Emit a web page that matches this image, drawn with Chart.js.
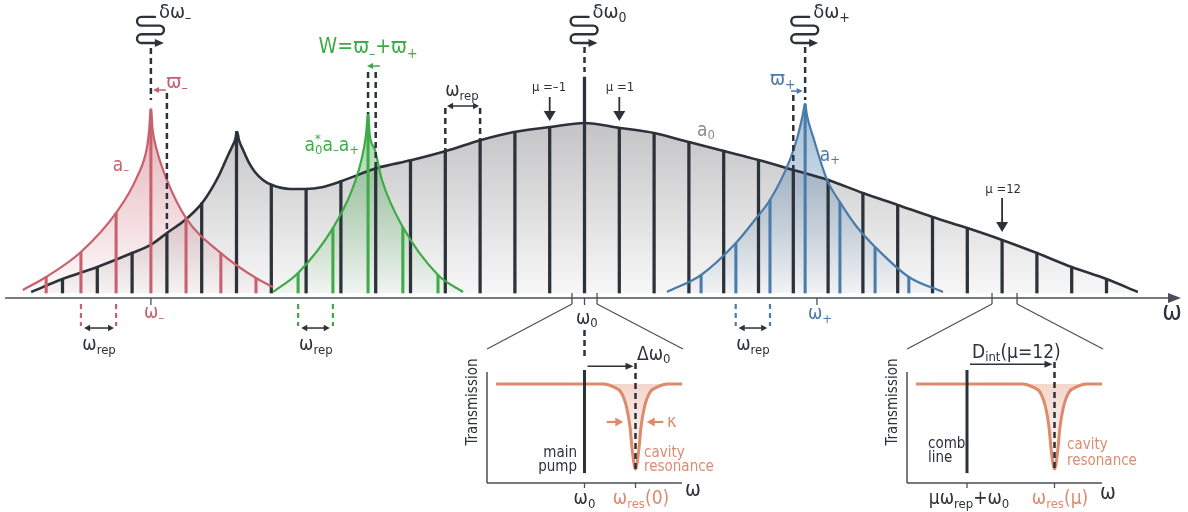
<!DOCTYPE html>
<html>
<head>
<meta charset="utf-8">
<title>Frequency comb</title>
<script src="https://cdn.jsdelivr.net/npm/chart.js@4.4.1/dist/chart.umd.min.js"></script>
<style>
  html, body { margin: 0; padding: 0; background: #fff; }
  #wrap { position: relative; width: 1188px; height: 512px; overflow: hidden; }
  canvas { position: absolute; }
</style>
</head>
<body>
<div id="wrap">
  <canvas id="main" width="1188" height="512" style="left:0;top:0"></canvas>
  <canvas id="inset1" width="280" height="182" style="left:440px;top:330px"></canvas>
  <canvas id="inset2" width="300" height="182" style="left:860px;top:330px"></canvas>
</div>
<script>
// x = comb index mu (omega_rep units from omega_0), y = amplitude (main envelope peak = 1)

// main comb lines
const greyMu = [-15, -14, -13, -12, -11, -10, -9, -8, -7, -6, -5, -4, -3, -2, -1, 0,
  1, 2, 3, 4, 5, 6, 7, 8, 9, 10, 11, 12, 13, 14, 15];
const greyAmp = [0.08, 0.15, 0.24, 0.35, 0.53, 0.95, 0.64, 0.61, 0.66, 0.74, 0.78, 0.84, 0.90, 0.95, 0.98, 1.27,
  0.97, 0.94, 0.89, 0.84, 0.78, 0.72, 0.67, 0.59, 0.52, 0.45, 0.38, 0.31, 0.24, 0.15, 0.08];

// main envelope a0
const envMu = [-15.9, -15, -14, -13, -12.43, -12, -11.48, -10.99, -10.7, -10.47,
  -10.24, -10.13, -10.04, -9.98, -9.93, -9.81, -9.64, -9.47, -9.24, -8.98,
  -8.46, -8.03, -7.51, -6.97, -5.96, -4.96, -3.98, -2.97, -2.03, -0.99,
  0, 1.02, 2, 3, 4, 5, 6, 7, 8, 9, 10, 11, 12, 13, 14, 15, 15.9];
const envAmp = [0.006, 0.082, 0.153, 0.235, 0.288, 0.353, 0.429, 0.529, 0.618, 0.706,
  0.812, 0.859, 0.9, 0.947, 0.9, 0.841, 0.765, 0.712, 0.665, 0.635,
  0.612, 0.612, 0.624, 0.659, 0.735, 0.782, 0.835, 0.9, 0.947, 0.976,
  1.0, 0.971, 0.941, 0.888, 0.835, 0.782, 0.724, 0.665, 0.588, 0.518, 0.447, 0.382, 0.312, 0.235, 0.153, 0.082, 0.006];

// a- (red)
const redMu = [-16.14, -15.47, -14.47, -13.46, -12.86, -12.57, -12.51, -12.46, -12.41, -12.29, -12.0, -11.45, -10.45, -9.44, -8.95];
const redAmp = [0.018, 0.094, 0.241, 0.471, 0.682, 0.859, 0.959, 1.082, 0.959, 0.841, 0.665, 0.441, 0.235, 0.088, 0.035];
const redCombMu = [-15.47, -14.47, -13.46, -12.46, -11.45, -10.45, -9.44];
const redCombAmp = [0.094, 0.241, 0.471, 1.082, 0.441, 0.235, 0.088];

// a0* a- a+ (green)
const greenMu = [-8.95, -8.23, -7.23, -6.68, -6.39, -6.28, -6.22, -6.17, -6.02, -5.82, -5.22, -4.21, -3.49];
const greenAmp = [0.006, 0.118, 0.382, 0.606, 0.8, 0.929, 1.053, 0.929, 0.841, 0.665, 0.388, 0.106, 0.006];
const greenCombMu = [-8.23, -7.23, -6.22, -5.22, -4.21];
const greenCombAmp = [0.118, 0.382, 1.053, 0.388, 0.106];

// a+ (blue)
const blueMu = [2.37, 3.35, 4.35, 4.96, 5.33, 5.9, 6.12, 6.27, 6.34, 6.39, 6.57, 6.97, 7.34, 7.83, 8.35, 9.32, 10.3];
const blueAmp = [0.006, 0.106, 0.294, 0.447, 0.547, 0.782, 0.918, 1.047, 1.112, 1.047, 0.918, 0.665, 0.535, 0.388, 0.271, 0.094, 0.006];
const blueCombMu = [3.35, 4.35, 5.33, 6.34, 7.34, 8.35, 9.32];
const blueCombAmp = [0.106, 0.294, 0.547, 1.112, 0.535, 0.271, 0.094];

// resonance dip in the insets (offset from resonance, transmission)
const dipOffset = [-3.2, -2.2, -1.4, -0.9, -0.55, -0.33, 0, 0.33, 0.55, 0.9, 1.4, 2.2, 3.2];
const dipT = [1, 0.97, 0.909, 0.768, 0.566, 0.333, 0.141, 0.333, 0.566, 0.768, 0.909, 0.97, 1];

const DARK = '#2c313a', AXIS = '#4a4f57', RED = '#c8606d', GREEN = '#3dab47',
  BLUE = '#4a7cab', ORANGE = '#dd8b6d', GREYTXT = '#8c8c8c';
const FONT = "'Liberation Sans Narrow','Arial Narrow','DejaVu Sans Condensed',sans-serif";

const pts = (xs, ys) => xs.map((v, i) => ({ x: v, y: ys[i] }));

// ---------- drawing helpers ----------
function seg(ctx, x1, y1, x2, y2, color, lw, dashArr) {
  ctx.save();
  ctx.strokeStyle = color;
  ctx.lineWidth = lw;
  ctx.setLineDash(dashArr || []);
  ctx.beginPath();
  ctx.moveTo(x1, y1);
  ctx.lineTo(x2, y2);
  ctx.stroke();
  ctx.restore();
}

function head(ctx, x, y, ang, color, len, hw) {
  ctx.save();
  ctx.fillStyle = color;
  ctx.beginPath();
  ctx.moveTo(x, y);
  ctx.lineTo(x - Math.cos(ang) * len - Math.sin(ang) * hw, y - Math.sin(ang) * len + Math.cos(ang) * hw);
  ctx.lineTo(x - Math.cos(ang) * len + Math.sin(ang) * hw, y - Math.sin(ang) * len - Math.cos(ang) * hw);
  ctx.closePath();
  ctx.fill();
  ctx.restore();
}

function arrow(ctx, x1, y1, x2, y2, color, lw, len, hw) {
  const ang = Math.atan2(y2 - y1, x2 - x1);
  seg(ctx, x1, y1, x2 - Math.cos(ang) * len * 0.7, y2 - Math.sin(ang) * len * 0.7, color, lw);
  head(ctx, x2, y2, ang, color, len, hw);
}

function arrow2(ctx, x1, x2, y, color, lw, len, hw) {
  seg(ctx, x1 + len * 0.7, y, x2 - len * 0.7, y, color, lw);
  head(ctx, x1, y, Math.PI, color, len, hw);
  head(ctx, x2, y, 0, color, len, hw);
}

// parts: [text, 'sub'|'sup'|'', optional stacked superscript]
function rich(ctx, x, y, parts, size, color, align) {
  const small = Math.round(size * 0.68);
  ctx.save();
  ctx.fillStyle = color;
  ctx.textBaseline = 'alphabetic';
  ctx.textAlign = 'left';
  const widths = parts.map(p => {
    ctx.font = (p[1] ? small : size) + 'px ' + FONT;
    let w = ctx.measureText(p[0]).width;
    if (p[2]) w = Math.max(w, ctx.measureText(p[2]).width);
    return w;
  });
  const total = widths.reduce((a, b) => a + b, 0);
  let cx = align === 'left' ? x : align === 'right' ? x - total : x - total / 2;
  const base = y + size * 0.3;
  parts.forEach((p, i) => {
    ctx.font = (p[1] ? small : size) + 'px ' + FONT;
    let by = base;
    if (p[1] === 'sub') by = base + size * 0.2;
    if (p[1] === 'sup') by = base - size * 0.45;
    ctx.fillText(p[0], cx, by);
    if (p[2]) ctx.fillText(p[2], cx, base - size * 0.42);
    cx += widths[i];
  });
  ctx.restore();
}

function wiggle(ctx, cx, top) {
  const r = 4.35;
  const rows = [top, top + 2 * r, top + 4 * r, top + 6 * r];
  ctx.save();
  ctx.strokeStyle = DARK;
  ctx.lineWidth = 2.4;
  ctx.lineCap = 'round';
  ctx.beginPath();
  ctx.moveTo(cx + 4, rows[0]);
  ctx.lineTo(cx - 9.5, rows[0]);
  ctx.arc(cx - 9.5, rows[0] + r, r, -Math.PI / 2, Math.PI / 2, true);
  ctx.lineTo(cx + 8.7, rows[1]);
  ctx.arc(cx + 8.7, rows[1] + r, r, -Math.PI / 2, Math.PI / 2, false);
  ctx.lineTo(cx - 9.5, rows[2]);
  ctx.arc(cx - 9.5, rows[2] + r, r, -Math.PI / 2, Math.PI / 2, true);
  ctx.lineTo(cx + 6, rows[3]);
  ctx.stroke();
  ctx.restore();
  head(ctx, cx + 13, rows[3], 0, DARK, 9, 4);
}

function vGrad(chart, topVal, botVal, c1, c2) {
  const { ctx, chartArea, scales } = chart;
  if (!chartArea) return c2;
  const g = ctx.createLinearGradient(0, scales.y.getPixelForValue(topVal), 0, scales.y.getPixelForValue(botVal));
  g.addColorStop(0, c1);
  g.addColorStop(1, c2);
  return g;
}

// ---------- main chart decorations ----------
const AXIS_A = -0.029;
const mainDecor = {
  id: 'mainDecor',
  afterDatasetsDraw(chart) {
    const { ctx } = chart;
    const X = v => chart.scales.x.getPixelForValue(v);
    const Y = v => chart.scales.y.getPixelForValue(v);
    const yAx = Y(AXIS_A);

    // frequency axis
    seg(ctx, X(-16.65), yAx, X(16.9), yAx, AXIS, 1.5);
    head(ctx, X(17.14), yAx, 0, AXIS, 13, 5);
    [-12.46, 0, 6.68].forEach(m => seg(ctx, X(m), yAx, X(m), Y(-0.071), AXIS, 1.3));

    // zoom windows towards the insets
    [[-0.36, 0.36, -2.8, 2.83], [11.71, 12.43, 9.27, 14.9]].forEach(([lo, hi, l, r]) => {
      seg(ctx, X(lo), Y(0), X(lo), Y(-0.065), AXIS, 1.3);
      seg(ctx, X(hi), Y(0), X(hi), Y(-0.065), AXIS, 1.3);
      seg(ctx, X(lo), Y(-0.065), X(l), Y(-0.329), AXIS, 1.2);
      seg(ctx, X(hi), Y(-0.065), X(r), Y(-0.329), AXIS, 1.2);
    });

    // dashed guide lines
    const D = [6, 4];
    [[-12.46, 1.441, 1.135], [-12, 1.176, 0.353], [-6.22, 1.3, 1.053], [-6, 1.3, 0.735],
     [0, 1.447, 1.3], [6.34, 1.447, 1.135], [6, 1.165, 0.724], [-4, 1.088, 0.835], [-3, 1.088, 0.9],
     [0, -0.218, -0.394]].forEach(([m, a1, a2]) => seg(ctx, X(m), Y(a1), X(m), Y(a2), DARK, 2.5, D));
    [[-14.47, RED], [-13.46, RED], [-8.23, GREEN], [-7.23, GREEN], [4.345, BLUE], [5.33, BLUE]]
      .forEach(([m, c]) => seg(ctx, X(m), Y(-0.065), X(m), Y(-0.194), c, 2.2, [5, 4]));

    // small arrows
    arrow(ctx, X(-12.03), Y(1.194), X(-12.40), Y(1.194), RED, 1.5, 6, 3);
    arrow(ctx, X(-5.88), Y(1.335), X(-6.25), Y(1.335), GREEN, 1.5, 6, 3);
    arrow(ctx, X(5.93), Y(1.188), X(6.27), Y(1.188), BLUE, 1.5, 6, 3);
    arrow2(ctx, X(-3.95), X(-3.03), Y(1.1), DARK, 1.5, 6, 3.2);
    [[-14.38, -13.52], [-8.14, -7.32], [4.43, 5.25]]
      .forEach(([a, b]) => arrow2(ctx, X(a), X(b), Y(-0.206), DARK, 1.5, 6, 3.2));
    arrow(ctx, X(-1), Y(1.153), X(-1), Y(1.012), DARK, 1.8, 10, 6);
    arrow(ctx, X(1), Y(1.153), X(1), Y(1.012), DARK, 1.8, 10, 6);
    arrow(ctx, X(12), Y(0.559), X(12), Y(0.359), DARK, 1.8, 10, 6);

    // noise inputs
    [[-12.46, '–'], [0, '0'], [6.34, '+']].forEach(([m, s]) => {
      wiggle(ctx, X(m), Y(1.624));
      rich(ctx, X(m) + 8, Y(1.653), [['δω', ''], [s, 'sub']], 20, DARK, 'left');
    });

    // labels
    rich(ctx, X(-11.71), Y(1.241), [['ϖ', ''], ['–', 'sub']], 20, RED, 'center');
    rich(ctx, X(5.7), Y(1.259), [['ϖ', ''], ['+', 'sub']], 20, BLUE, 'center');
    rich(ctx, X(-6.22), Y(1.447), [['W=ϖ', ''], ['–', 'sub'], ['+ϖ', ''], ['+', 'sub']], 21, GREEN, 'center');
    rich(ctx, X(-3.52), Y(1.194), [['ω', ''], ['rep', 'sub']], 19, DARK, 'center');
    rich(ctx, X(-1.02), Y(1.212), [['μ =–1', '']], 13, DARK, 'center');
    rich(ctx, X(1.02), Y(1.212), [['μ =1', '']], 13, DARK, 'center');
    rich(ctx, X(12.03), Y(0.612), [['μ =12', '']], 13, DARK, 'center');
    rich(ctx, X(3.49), Y(0.959), [['a', ''], ['0', 'sub']], 19, GREYTXT, 'center');
    rich(ctx, X(-13.32), Y(0.753), [['a', ''], ['–', 'sub']], 19, RED, 'center');
    rich(ctx, X(7.05), Y(0.812), [['a', ''], ['+', 'sub']], 19, BLUE, 'center');
    rich(ctx, X(-7.26), Y(0.871), [['a', ''], ['0', 'sub', '*'], ['a', ''], ['–', 'sub'], ['a', ''], ['+', 'sub']], 19, GREEN, 'center');
    rich(ctx, X(-12.37), Y(-0.112), [['ω', ''], ['–', 'sub']], 19, RED, 'center');
    rich(ctx, X(0.07), Y(-0.147), [['ω', ''], ['0', 'sub']], 19, DARK, 'center');
    rich(ctx, X(6.77), Y(-0.118), [['ω', ''], ['+', 'sub']], 19, BLUE, 'center');
    [-13.95, -7.72, 4.84].forEach(m =>
      rich(ctx, X(m), Y(-0.3), [['ω', ''], ['rep', 'sub']], 19, DARK, 'center'));
    rich(ctx, X(16.88), Y(-0.112), [['ω', '']], 26, DARK, 'center');
  }
};

const X_MIN = -584.5 / 34.8, X_MAX = 603.5 / 34.8;
const Y_MIN = -219 / 170, Y_MAX = 293 / 170;

function envelope(xs, ys, color, rgb, topVal, order) {
  return {
    type: 'line', order,
    data: pts(xs, ys),
    borderColor: color, borderWidth: 2.2,
    pointRadius: 0, cubicInterpolationMode: 'monotone',
    fill: 'origin',
    backgroundColor: c => vGrad(c.chart, topVal, 0, `rgba(${rgb},0.5)`, `rgba(${rgb},0.03)`)
  };
}

function comb(xs, ys, color, width, order) {
  return {
    type: 'bar', order,
    data: pts(xs, ys),
    backgroundColor: color, borderWidth: 0,
    barThickness: width, grouped: false
  };
}

new Chart(document.getElementById('main'), {
  type: 'line',
  data: {
    datasets: [
      {
        type: 'line', order: 5,
        data: pts(envMu, envAmp),
        borderColor: DARK, borderWidth: 2.6,
        pointRadius: 0, cubicInterpolationMode: 'monotone',
        fill: 'origin',
        backgroundColor: c => vGrad(c.chart, 1, 0, '#c4c4c6', '#f7f7f7')
      },
      comb(greyMu, greyAmp, DARK, 2.6, 4),
      comb(redCombMu, redCombAmp, RED, 2.4, 3),
      comb(greenCombMu, greenCombAmp, GREEN, 2.4, 3),
      comb(blueCombMu, blueCombAmp, BLUE, 2.4, 3),
      envelope(redMu, redAmp, RED, '200,96,109', 1.08, 1),
      envelope(greenMu, greenAmp, GREEN, '61,171,71', 1.05, 1),
      envelope(blueMu, blueAmp, BLUE, '74,124,171', 1.11, 1)
    ]
  },
  options: {
    responsive: false, animation: false, events: [],
    layout: { padding: 0 },
    scales: {
      x: { type: 'linear', min: X_MIN, max: X_MAX, display: false, offset: false },
      y: { type: 'linear', min: Y_MIN, max: Y_MAX, display: false }
    },
    plugins: { legend: { display: false }, tooltip: { enabled: false }, filler: { drawTime: 'beforeDatasetsDraw' } }
  },
  plugins: [mainDecor]
});

// ---------- insets ----------
function insetDecor(cfg) {
  return {
    id: 'insetDecor',
    afterDatasetsDraw(chart) {
      const { ctx, chartArea } = chart;
      const X = v => chart.scales.x.getPixelForValue(v);
      const Y = v => chart.scales.y.getPixelForValue(v);
      const b = chartArea.bottom, l = chartArea.left;
      seg(ctx, l, Y(1.121), l, b, AXIS, 1.5);
      seg(ctx, l, b, chartArea.right, b, AXIS, 1.5);
      seg(ctx, X(0), b, X(0), b + 5, AXIS, 1.3);
      seg(ctx, X(cfg.res), b, X(cfg.res), b + 5, AXIS, 1.3);
      seg(ctx, X(cfg.res), Y(cfg.dashTop), X(cfg.res), Y(0.131), DARK, 2.5, [6, 4]);
      arrow(ctx, X(0) + 3, Y(cfg.arrowT), X(cfg.res) - 2, Y(cfg.arrowT), DARK, 1.5, 8, 3.5);
      rich(ctx, X(cfg.top.x), Y(cfg.top.y), cfg.top.parts, 19, DARK, 'left');
      cfg.left.lines.forEach((t, i) =>
        rich(ctx, X(cfg.left.x), Y(cfg.left.ys[i]), [[t, '']], 15, DARK, cfg.left.align));
      cfg.right.lines.forEach((t, i) =>
        rich(ctx, X(cfg.right.x), Y(cfg.right.ys[i]), [[t, '']], 15, ORANGE, 'left'));
      ctx.save();
      ctx.translate(X(cfg.ylab), Y(0.818));
      ctx.rotate(-Math.PI / 2);
      rich(ctx, 0, 0, [['Transmission', '']], 15, DARK, 'center');
      ctx.restore();
      rich(ctx, X(cfg.tick0.x), Y(-0.152), cfg.tick0.parts, 19, DARK, 'center');
      rich(ctx, X(cfg.tick1.x), Y(-0.152), cfg.tick1.parts, 19, ORANGE, 'center');
      rich(ctx, X(cfg.omega.x), Y(cfg.omega.y), [['ω', '']], 21, DARK, 'center');
      if (cfg.kappa) {
        arrow(ctx, X(2.22), Y(0.616), X(3.88), Y(0.616), ORANGE, 2.2, 8, 4.5);
        arrow(ctx, X(7.88), Y(0.616), X(6.22), Y(0.616), ORANGE, 2.2, 8, 4.5);
        rich(ctx, X(8.25), Y(0.616), [['κ', '']], 18, ORANGE, 'left');
      }
    }
  };
}

function makeInset(id, xMin, xMax, start, end, res, padRight, cfg) {
  const curve = [{ x: start, y: 1 }]
    .concat(dipOffset.map((o, i) => ({ x: res + o, y: dipT[i] })))
    .concat([{ x: end, y: 1 }]);
  new Chart(document.getElementById(id), {
    type: 'line',
    data: {
      datasets: [
        {
          data: [{ x: 0, y: 0.1 }, { x: 0, y: 1.141 }],
          borderColor: DARK, borderWidth: 3, pointRadius: 0, order: 0
        },
        {
          data: curve,
          borderColor: ORANGE, borderWidth: 3, pointRadius: 0, order: 1,
          cubicInterpolationMode: 'monotone',
          fill: { value: 1 },
          backgroundColor: c => vGrad(c.chart, 1, 0.15, 'rgba(221,139,109,0.35)', 'rgba(221,139,109,0)')
        }
      ]
    },
    options: {
      responsive: false, animation: false, events: [],
      layout: { padding: { left: 47, right: padRight, top: 30, bottom: 29 } },
      scales: {
        x: { type: 'linear', min: xMin, max: xMax, display: false },
        y: { type: 'linear', min: 0, max: 1.242, display: false }
      },
      plugins: { legend: { display: false }, tooltip: { enabled: false } }
    },
    plugins: [insetDecor(Object.assign({ res }, cfg))]
  });
}

makeInset('inset1', -9.75, 9.75, -8.85, 9.75, 5.1, 38, {
  dashTop: 1.212, arrowT: 1.18, kappa: true, ylab: -11.25,
  top: { x: 5.25, y: 1.303, parts: [['Δω', ''], ['0', 'sub']] },
  left: { lines: ['main', 'pump'], x: -0.75, ys: [0.303, 0.162], align: 'right' },
  right: { lines: ['cavity', 'resonance'], x: 5.95, ys: [0.303, 0.162] },
  tick0: { x: 0, parts: [['ω', ''], ['0', 'sub']] },
  tick1: { x: 5.65, parts: [['ω', ''], ['res', 'sub'], ['(0)', '']] },
  omega: { x: 10.85, y: -0.071 }
});

makeInset('inset2', -6.0, 13.5, -5.1, 13.5, 8.75, 58, {
  dashTop: 1.222, arrowT: 1.2, kappa: false, ylab: -7.5,
  top: { x: 0.5, y: 1.323, parts: [['D', ''], ['int', 'sub'], ['(μ=12)', '']] },
  left: { lines: ['comb', 'line'], x: -3.9, ys: [0.394, 0.253], align: 'left' },
  right: { lines: ['cavity', 'resonance'], x: 10.0, ys: [0.384, 0.232] },
  tick0: { x: 0.2, parts: [['μω', ''], ['rep', 'sub'], ['+ω', ''], ['0', 'sub']] },
  tick1: { x: 9.3, parts: [['ω', ''], ['res', 'sub'], ['(μ)', '']] },
  omega: { x: 14.1, y: -0.101 }
});
</script>
</body>
</html>
